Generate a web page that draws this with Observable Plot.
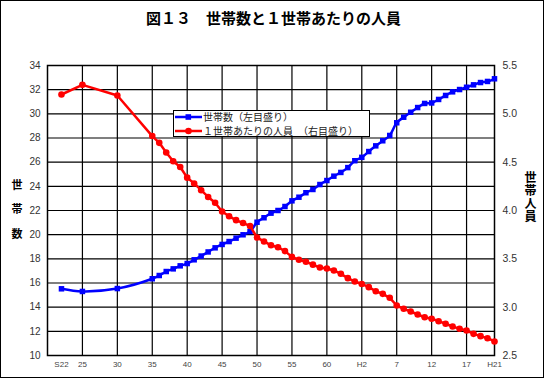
<!DOCTYPE html>
<html><head><meta charset="utf-8">
<script src="https://cdn.jsdelivr.net/npm/d3@7"></script>
<script src="https://cdn.jsdelivr.net/npm/@observablehq/plot@0.6"></script>
<style>
body{margin:0;background:#fff;}
#wrap{position:relative;width:547px;height:381px;overflow:hidden;font-family:"Noto Sans CJK JP",sans-serif;background:#fff;}
#chart{position:absolute;left:0;top:0;}
#frame{position:absolute;left:0;top:0;width:544px;height:378px;border:1.5px solid #000;box-sizing:border-box;pointer-events:none;}
#title{position:absolute;left:0;width:547px;top:7px;text-align:center;font-size:15px;font-weight:bold;line-height:22px;color:#000;}
#ylab{position:absolute;left:11px;top:179px;writing-mode:vertical-rl;font-size:11px;font-weight:bold;letter-spacing:13.5px;line-height:12px;color:#000;}
#y2lab{position:absolute;left:524px;top:171px;writing-mode:vertical-rl;font-size:12px;font-weight:bold;letter-spacing:1px;line-height:13px;color:#000;}
#legend{position:absolute;left:173px;top:110px;width:197px;height:27px;border:1px solid #000;box-sizing:border-box;background:#fff;}
.row{position:absolute;left:1px;height:13px;display:flex;align-items:center;font-size:10px;color:#222;white-space:nowrap;}
.row svg{display:block;margin-right:1px;}
</style>
</head><body>
<div id="wrap">
  <div id="chart"></div>
  <div id="title">図１３　世帯数と１世帯あたりの人員</div>
  <div id="ylab">世帯数</div>
  <div id="y2lab">世帯人員</div>
  <div id="legend">
    <div class="row" style="top:-1px"><svg width="27" height="10"><line x1="0" x2="27" y1="5" y2="5" stroke="#0000ff" stroke-width="2.5"/><rect x="10.5" y="2.2" width="5.6" height="5.6" fill="#0000ff"/></svg><span>世帯数（左目盛り）</span></div>
    <div class="row" style="top:13px"><svg width="27" height="10"><line x1="0" x2="27" y1="5" y2="5" stroke="#ff0000" stroke-width="2.5"/><circle cx="13.5" cy="5" r="3.3" fill="#ff0000"/></svg><span>１世帯あたりの人員　（右目盛り）</span></div>
  </div>
  <div id="frame"></div>
</div>
<script>
// Survey years (Western calendar); S = Showa, H = Heisei
const years = [1947, 1950, 1955, 1960, 1961, 1962, 1963, 1964, 1965, 1966, 1967, 1968, 1969,
  1970, 1971, 1972, 1973, 1974, 1975, 1976, 1977, 1978, 1979, 1980, 1981, 1982, 1983, 1984,
  1985, 1986, 1987, 1988, 1989, 1990, 1991, 1992, 1993, 1994, 1995, 1996, 1997, 1998, 1999,
  2000, 2001, 2002, 2003, 2004, 2005, 2006, 2007, 2008, 2009];
// 世帯数 (left scale)
const households = [15.52, 15.30, 15.54, 16.35, 16.62, 16.95, 17.17, 17.42, 17.61, 17.92, 18.23, 18.57, 18.91,
  19.19, 19.43, 19.71, 19.99, 20.26, 21.03, 21.40, 21.78, 22.00, 22.33, 22.80, 23.10, 23.47, 23.74, 24.15,
  24.48, 24.84, 25.15, 25.55, 26.12, 26.40, 26.88, 27.35, 27.77, 28.21, 29.26, 29.72, 30.13, 30.52, 30.86,
  30.90, 31.19, 31.52, 31.82, 32.01, 32.20, 32.40, 32.59, 32.68, 32.90];
// １世帯あたりの人員 (right scale)
const persons = [5.20, 5.30, 5.19, 4.77, 4.70, 4.60, 4.51, 4.45, 4.34, 4.28, 4.21, 4.14, 4.08,
  3.99, 3.94, 3.90, 3.87, 3.84, 3.72, 3.68, 3.64, 3.62, 3.58, 3.52, 3.49, 3.47, 3.44, 3.41,
  3.40, 3.38, 3.345, 3.30, 3.265, 3.24, 3.207, 3.165, 3.138, 3.097, 3.017, 2.983, 2.955, 2.924, 2.896,
  2.88, 2.855, 2.828, 2.80, 2.776, 2.759, 2.724, 2.70, 2.679, 2.645];
// x tick positions and labels
const xTicks = [1947, 1950, 1955, 1960, 1965, 1970, 1975, 1980, 1985, 1990, 1995, 2000, 2005, 2009];
const xLabels = ["S22", "25", "30", "35", "40", "45", "50", "55", "60", "H2", "7", "12", "17", "H21"];
const xGrid = [1950, 1955, 1960, 1965, 1970, 1975, 1980, 1985, 1990, 1995, 2000, 2005];
const leftTicks = [10, 12, 14, 16, 18, 20, 22, 24, 26, 28, 30, 32, 34];
const rightTicks = [2.5, 3.0, 3.5, 4.0, 4.5, 5.0, 5.5];

// right scale (2.5..5.5) mapped onto the left scale (10..34)
const leftMin = 10, leftMax = 34, rightMin = 2.5, rightMax = 5.5;
const k = (leftMax - leftMin) / (rightMax - rightMin);
const toLeft = v => leftMin + (v - rightMin) * k;
const toRight = v => rightMin + (v - leftMin) / k;

const data = years.map((y, i) => ({year: y, h: households[i], p: toLeft(persons[i])}));
const labelOf = new Map(xTicks.map((t, i) => [t, xLabels[i]]));

const chart = Plot.plot({
  width: 547, height: 381,
  marginLeft: 47, marginRight: 53, marginTop: 65, marginBottom: 26,
  style: {fontFamily: "'Liberation Sans', Arial, sans-serif", background: "transparent"},
  x: {type: "linear", domain: [1945, 2009]},
  y: {domain: [leftMin, leftMax]},
  marks: [
    Plot.gridY(leftTicks, {stroke: "#000", strokeOpacity: 1, strokeWidth: 1.2}),
    Plot.gridX(xGrid, {stroke: "#000", strokeOpacity: 1, strokeWidth: 1.2}),
    Plot.frame({stroke: "#000", strokeWidth: 1.5}),
    Plot.axisY(leftTicks, {anchor: "left", tickSize: 0, tickPadding: 7, fontSize: 10, fill: "#333", label: null}),
    Plot.axisY(rightTicks.map(toLeft), {anchor: "right", tickSize: 0, tickPadding: 8, fontSize: 10.5, fill: "#333",
      tickFormat: d => toRight(d).toFixed(1), label: null}),
    Plot.axisX(xTicks, {anchor: "bottom", tickSize: 0, tickPadding: 6, fontSize: 8, fill: "#444",
      tickFormat: d => labelOf.get(d), label: null}),
    Plot.line(data, {x: "year", y: "h", stroke: "#0000ff", strokeWidth: 2.5, curve: "catmull-rom"}),
    Plot.dot(data, {x: "year", y: "h", symbol: "square", r: 3.1, fill: "#0000ff", stroke: "none"}),
    Plot.line(data, {x: "year", y: "p", stroke: "#ff0000", strokeWidth: 2.5}),
    Plot.dot(data, {x: "year", y: "p", symbol: "circle", r: 3.3, fill: "#ff0000", stroke: "none"})
  ]
});
document.getElementById("chart").appendChild(chart);
</script>
</body></html>
